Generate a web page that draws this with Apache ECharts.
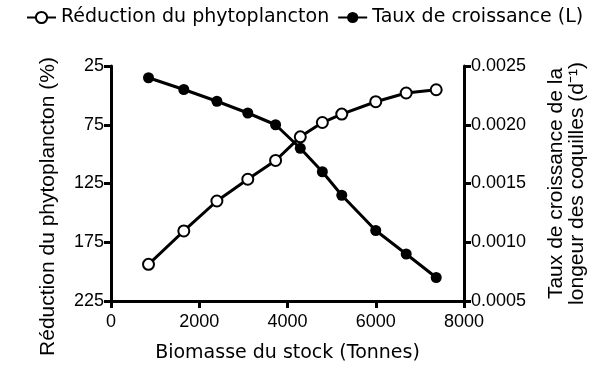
<!DOCTYPE html>
<html>
<head>
<meta charset="utf-8">
<script src="https://cdn.jsdelivr.net/npm/echarts@6/dist/echarts.min.js"></script>
<style>
html,body{margin:0;padding:0;background:#fff;}
#chart{width:600px;height:386px;}
</style>
</head>
<body>
<div id="chart"></div>
<script>
// Data
const biomass = [850, 1650, 2400, 3100, 3730, 4290, 4790, 5230, 6000, 6690, 7370];
const phytoReduction = [193.8, 165.4, 139.9, 121.4, 105.4, 85.3, 73.1, 65.9, 55.4, 48, 45.2];
const growthRate = [0.0024, 0.0023, 0.0022, 0.0021, 0.0020, 0.0018, 0.0016, 0.0014, 0.0011, 0.0009, 0.0007];
const seriesNames = ['Réduction du phytoplancton', 'Taux de croissance (L)'];
const xTitle = 'Biomasse du stock (Tonnes)';
const yLeftTitle = 'Réduction du phytoplancton (%)';
const yRightTitle = 'Taux de croissance de la\nlongeur des coquilles (d⁻¹)';

const pairs = (xs, ys) => xs.map((x, i) => [x, ys[i]]);

const axisCommon = {
  axisLine: {show: true, lineStyle: {color: '#000', width: 3}},
  axisTick: {show: true, inside: false, length: 7, lineStyle: {color: '#000', width: 3}},
  splitLine: {show: false},
  axisLabel: {color: '#000', fontFamily: 'Liberation Sans', fontSize: 18}
};

const chart = echarts.init(document.getElementById('chart'), null, {renderer: 'canvas'});
chart.setOption({
  animation: false,
  backgroundColor: '#fff',
  grid: {left: 111, right: 136, top: 66, bottom: 85, containLabel: false},
  legend: {
    top: 3, left: 21,
    itemWidth: 29, itemHeight: 14, itemGap: 8,
    textStyle: {color: '#000', fontFamily: 'DejaVu Sans', fontSize: 19},
    data: seriesNames
  },
  xAxis: Object.assign({}, axisCommon, {
    type: 'value', min: 0, max: 8000, interval: 2000,
    name: xTitle, nameLocation: 'middle', nameGap: 43,
    nameTextStyle: {color: '#000', fontFamily: 'DejaVu Sans', fontSize: 19},
    axisLabel: Object.assign({}, axisCommon.axisLabel, {margin: 12, formatter: v => String(v)})
  }),
  yAxis: [
    Object.assign({}, axisCommon, {
      type: 'value', position: 'left', inverse: true,
      min: 25, max: 225, interval: 50,
      name: yLeftTitle, nameLocation: 'middle', nameGap: 52, nameRotate: 90,
      nameTextStyle: {color: '#000', fontFamily: 'Liberation Sans', fontSize: 21, padding: [0, 46, 0, 0]},
      axisLabel: Object.assign({}, axisCommon.axisLabel, {margin: 7, formatter: v => String(v)})
    }),
    Object.assign({}, axisCommon, {
      type: 'value', position: 'right',
      min: 0.0005, max: 0.0025, interval: 0.0005,
      name: yRightTitle, nameLocation: 'middle', nameGap: 82, nameRotate: 90,
      nameTextStyle: {color: '#000', fontFamily: 'Liberation Sans', fontSize: 21, lineHeight: 21},
      axisLabel: Object.assign({}, axisCommon.axisLabel, {margin: 7, formatter: v => v.toFixed(4)})
    })
  ],
  series: [
    {
      name: seriesNames[0], type: 'line', yAxisIndex: 0,
      data: pairs(biomass, phytoReduction),
      symbol: 'circle', symbolSize: 11, showAllSymbol: true,
      lineStyle: {color: '#000', width: 3},
      itemStyle: {color: '#fff', borderColor: '#000', borderWidth: 2},
      z: 3
    },
    {
      name: seriesNames[1], type: 'line', yAxisIndex: 1,
      data: pairs(biomass, growthRate),
      symbol: 'circle', symbolSize: 11, showAllSymbol: true,
      lineStyle: {color: '#000', width: 3},
      itemStyle: {color: '#000', borderColor: '#000', borderWidth: 0},
      z: 2
    }
  ]
});
</script>
</body>
</html>
